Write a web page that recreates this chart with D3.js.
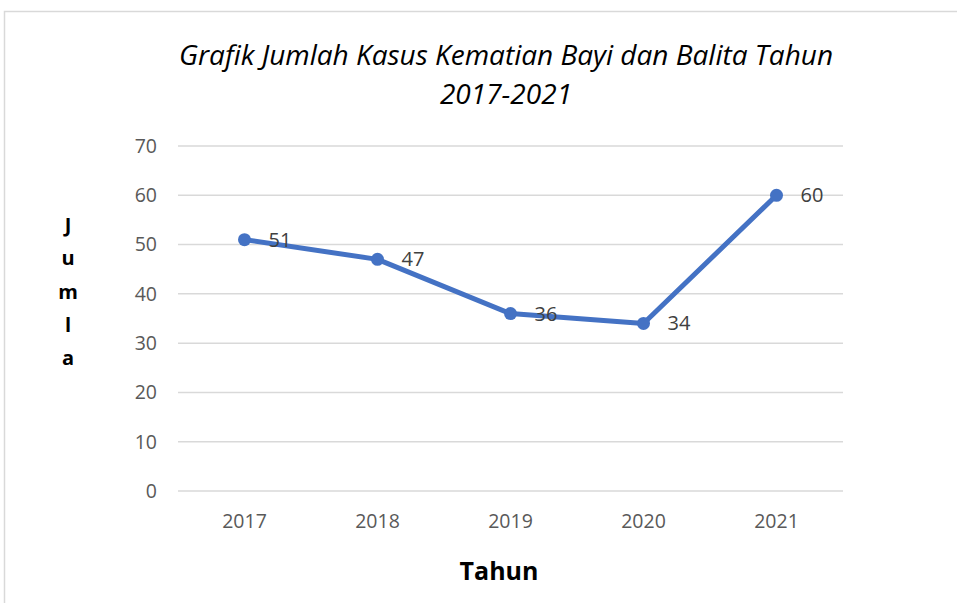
<!DOCTYPE html>
<html>
<head>
<meta charset="utf-8">
<script src="https://cdn.jsdelivr.net/npm/d3@7"></script>
<style>
  body { margin: 0; background: #fff; }
  text { font-family: "Open Sans", "Noto Sans", sans-serif; }
</style>
</head>
<body>
<div id="vis"></div>
<script>
const years = ["2017", "2018", "2019", "2020", "2021"];
const deaths = [51, 47, 36, 34, 60];
const yTicks = [0, 10, 20, 30, 40, 50, 60, 70];
const yLabelLetters = ["J", "u", "m", "l", "a"];
const titleLines = ["Grafik Jumlah Kasus Kematian Bayi dan Balita Tahun", "2017-2021"];

const width = 957;
const height = 603;

const svg = d3.select("#vis").append("svg")
  .attr("width", width).attr("height", height);

// chart frame
svg.append("rect")
  .attr("x", 4.5).attr("y", 11.5)
  .attr("width", 960).attr("height", 600)
  .attr("fill", "#fff").attr("stroke", "#d9d9d9").attr("stroke-width", 1.5);

const x = d3.scaleBand().domain(years).range([178, 843]);
const y = d3.scaleLinear().domain([0, 70]).range([491, 146]);

// gridlines
svg.append("g").selectAll("line").data(yTicks).join("line")
  .attr("x1", 178).attr("x2", 843)
  .attr("y1", d => y(d)).attr("y2", d => y(d))
  .attr("stroke", "#d9d9d9").attr("stroke-width", 1.5);

// y tick labels
svg.append("g").selectAll("text").data(yTicks).join("text")
  .attr("x", 157).attr("y", d => y(d))
  .attr("dy", "0.35em")
  .attr("text-anchor", "end")
  .attr("fill", "#595959").style("font-size", "19.5px")
  .text(d => d);

// x tick labels
svg.append("g").selectAll("text").data(years).join("text")
  .attr("x", d => x(d) + x.bandwidth() / 2).attr("y", 528)
  .attr("text-anchor", "middle")
  .attr("fill", "#595959").style("font-size", "19.5px")
  .text(d => d);

const pts = years.map((yr, i) => ({ yr, v: deaths[i] }));

const line = d3.line()
  .x(d => x(d.yr) + x.bandwidth() / 2)
  .y(d => y(d.v));

svg.append("path").datum(pts)
  .attr("d", line)
  .attr("fill", "none").attr("stroke", "#4472C4")
  .attr("stroke-width", 5).attr("stroke-linejoin", "round").attr("stroke-linecap", "round");

svg.append("g").selectAll("circle").data(pts).join("circle")
  .attr("cx", d => x(d.yr) + x.bandwidth() / 2)
  .attr("cy", d => y(d.v))
  .attr("r", 6.5)
  .attr("fill", "#4472C4");

// data labels
svg.append("g").selectAll("text").data(pts).join("text")
  .attr("x", d => x(d.yr) + x.bandwidth() / 2 + 24)
  .attr("y", d => y(d.v))
  .attr("dy", "0.35em")
  .attr("fill", "#404040").style("font-size", "20px")
  .text(d => d.v);

// title, two separate lines
svg.append("g").selectAll("text").data(titleLines).join("text")
  .attr("x", 506).attr("y", (d, i) => 65 + i * 39)
  .attr("text-anchor", "middle")
  .style("font-size", "28px").style("font-style", "italic")
  .attr("fill", "#000")
  .text(d => d);

// y axis label, stacked letters
svg.append("g").selectAll("text").data(yLabelLetters).join("text")
  .attr("x", 68).attr("y", (d, i) => 232 + i * 33.3)
  .attr("text-anchor", "middle")
  .style("font-size", "20px").style("font-weight", "bold")
  .attr("fill", "#000")
  .text(d => d);

// x axis title
svg.append("text")
  .attr("x", 499).attr("y", 580)
  .attr("text-anchor", "middle")
  .style("font-size", "25px").style("font-weight", "bold")
  .attr("fill", "#000")
  .text("Tahun");
</script>
</body>
</html>
